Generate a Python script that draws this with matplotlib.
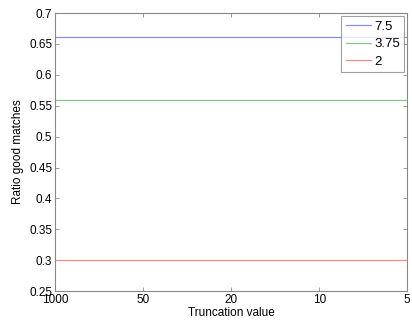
import numpy as np
import matplotlib
matplotlib.use("Agg")
import matplotlib.pyplot as plt

plt.rcParams['font.family'] = ['Liberation Sans', 'DejaVu Sans']
plt.rcParams['font.size'] = 8.5

# truncation values (categorical, evenly spaced)
trunc = ["1000", "50", "20", "10", "5"]
ratio_75 = [0.662, 0.662, 0.662, 0.662, 0.662]
ratio_375 = [0.560, 0.560, 0.560, 0.560, 0.560]
ratio_2 = [0.300, 0.300, 0.300, 0.300, 0.300]

fig = plt.figure(figsize=(4.12, 3.26), dpi=100)
ax = fig.add_axes([0.1335, 0.107, 0.855, 0.853])

x = np.arange(len(trunc))
ax.plot(x, ratio_75, color='#8888ff', lw=0.9, label='7.5')
ax.plot(x, ratio_375, color='#8cc68c', lw=0.9, label='3.75')
ax.plot(x, ratio_2, color='#ff8888', lw=0.9, label='2')

ax.set_xlim(0, len(trunc) - 1)
ax.set_ylim(0.25, 0.7)
ax.set_xticks(x)
ax.set_xticklabels(trunc)
ax.set_yticks(np.arange(0.25, 0.701, 0.05))
ax.set_yticklabels(['0.25', '0.3', '0.35', '0.4', '0.45', '0.5', '0.55', '0.6', '0.65', '0.7'])
ax.tick_params(direction='in', top=True, right=True, length=3, width=0.6,
               color='#888888', pad=2)
for sp in ax.spines.values():
    sp.set_color('#888888')
    sp.set_linewidth(0.8)

ax.set_xlabel('Truncation value', labelpad=1)
ax.set_ylabel('Ratio good matches', labelpad=4)

leg = ax.legend(loc='upper right', bbox_to_anchor=(0.992, 0.99), borderaxespad=0,
                fontsize=9.5, fancybox=False, borderpad=0.35,
                handlelength=1.9, handletextpad=0.25, labelspacing=0.4)
leg.get_frame().set_edgecolor('#888888')
leg.get_frame().set_linewidth(0.8)

fig.savefig('out.png', dpi=100)
